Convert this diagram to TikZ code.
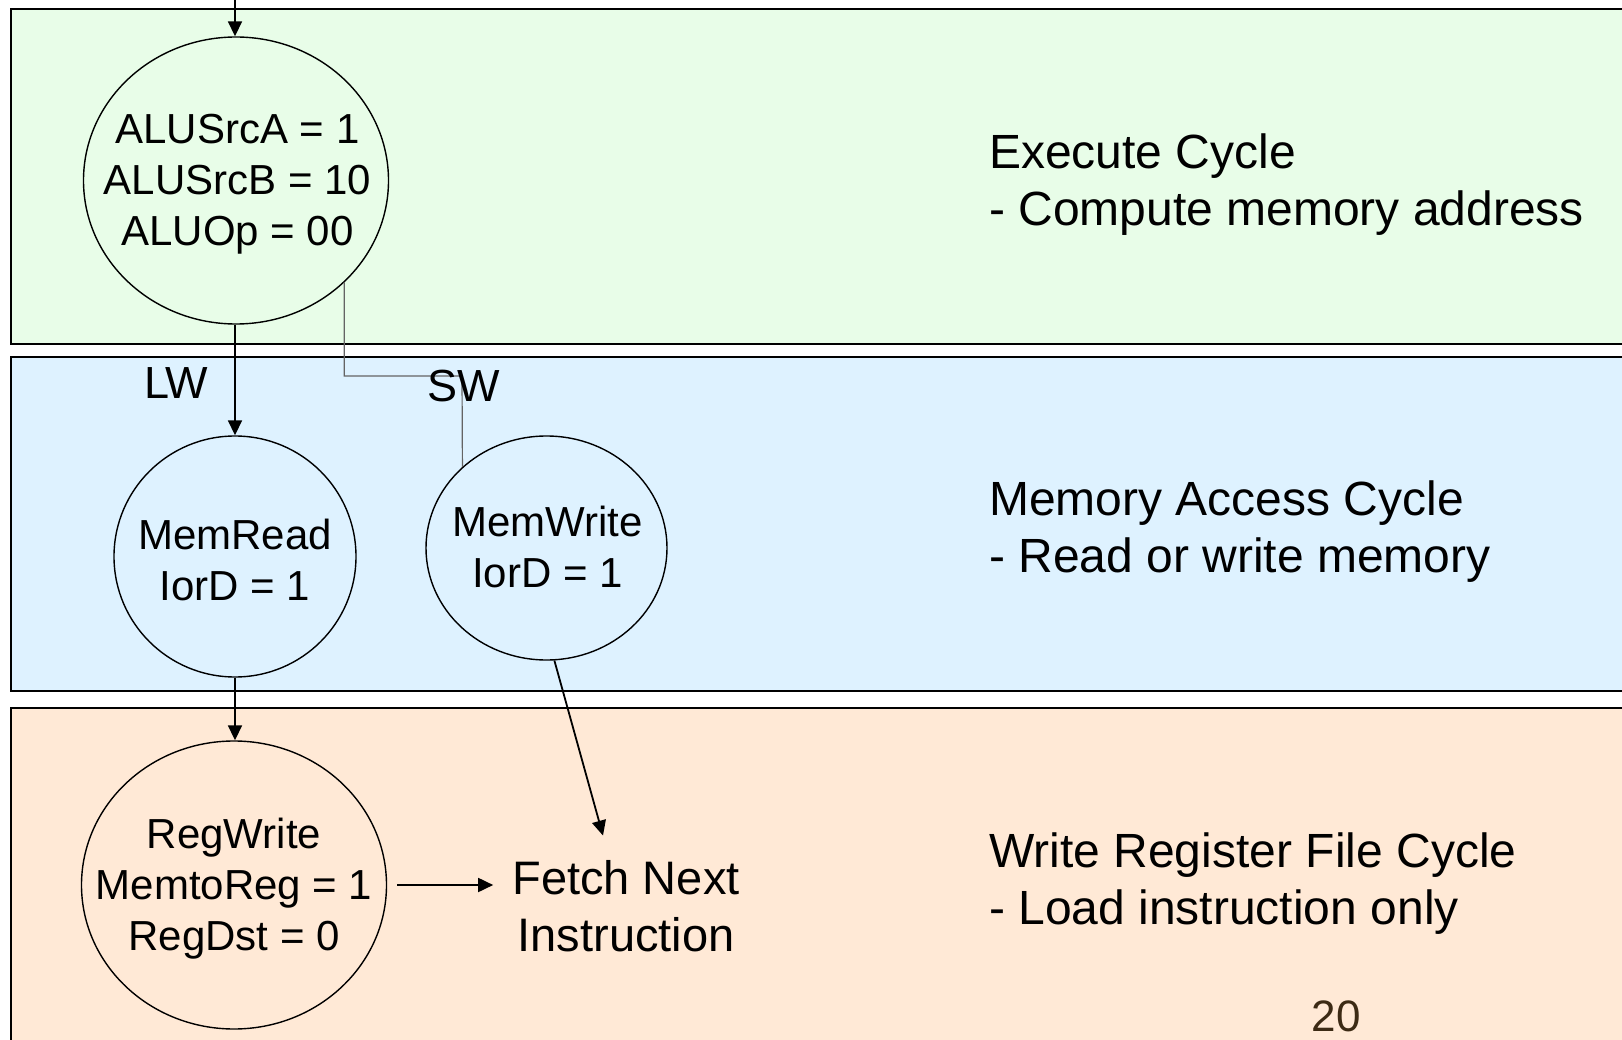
\documentclass[tikz,border=0pt]{standalone}
\usepackage{fontspec}
\setmainfont{Liberation Sans}
\usetikzlibrary{shapes.geometric,arrows.meta,calc}
\definecolor{execfill}{RGB}{232,253,232}
\definecolor{memfill}{RGB}{222,242,255}
\definecolor{wbfill}{RGB}{255,233,214}
\definecolor{pagenum}{RGB}{60,42,20}
\definecolor{swgray}{RGB}{100,100,100}
\begin{document}
\begin{tikzpicture}[x=1pt,y=-1pt,
  band/.style={draw=black,line width=2pt},
  state/.style={ellipse,draw=black,line width=1.4pt,inner sep=0pt},
  statetext/.style={align=center,inner sep=0pt,font=\fontsize{42}{51}\selectfont},
  arr/.style={line width=1.8pt,-{Triangle[length=15pt,width=14pt]}},
  swline/.style={line width=1.2pt,draw=swgray},
  cycletext/.style={align=left,inner sep=0pt,anchor=west,font=\fontsize{48}{57}\selectfont},
  branch/.style={font=\fontsize{45}{54}\selectfont,inner sep=0pt,anchor=base west}]
\useasboundingbox (0,0) rectangle (1622,1040);
\clip (0,0) rectangle (1622,1040);
\fill[white] (0,0) rectangle (1622,1040);
% cycle bands
\draw[band,fill=execfill] (11,9) rectangle (1660,344);
\draw[band,fill=memfill] (11,357) rectangle (1660,691);
\draw[band,fill=wbfill] (11,708) rectangle (1660,1080);
% states
\node[state,minimum width=305pt,minimum height=287pt,
  label={[statetext,yshift=-3.9pt,xshift=1.5pt]center:{ALUSrcA = 1\\ALUSrcB = 10\\ALUOp = 00}}] (alu) at (236,180.5) {};
\node[state,minimum width=242pt,minimum height=241pt,
  label={[statetext,yshift=-3.5pt]center:{MemRead\\IorD = 1}}] (mr) at (235,556.5) {};
\node[state,minimum width=241pt,minimum height=224pt,
  label={[statetext,yshift=1pt,xshift=1pt]center:{MemWrite\\IorD = 1}}] (mw) at (546.5,548) {};
\node[state,minimum width=305pt,minimum height=288pt,
  label={[statetext,yshift=-3.4pt]center:{RegWrite\\MemtoReg = 1\\RegDst = 0}}] (rw) at (234,885) {};
\node[font=\fontsize{47}{57}\selectfont,align=center,inner sep=0pt] (fetch) at (626,906.5) {Fetch Next\\Instruction};
% cycle descriptions
\node[cycletext] (exec) at (989,185) {Execute Cycle\\- Compute memory address};
\node[cycletext] (mem) at (989,532) {Memory Access Cycle\\- Read or write memory};
\node[cycletext] (wb) at (989,884) {Write Register File Cycle\\- Load instruction only};
\node[font=\fontsize{44}{53}\selectfont,text=pagenum,anchor=base,inner sep=0pt] (pg) at (1336,1031) {20};
% connectors
\coordinate (entry) at (235,0);
\coordinate (swbend) at (462,376);
\draw[arr] (entry) -- (entry |- alu.north);
\draw[arr] (mr.north |- alu.south) -- (mr.north);
\draw[arr] (mr.south) -- (mr.south |- rw.north);
\draw[swline] (alu.south east) |- (swbend) -- (mw.136.6);
\draw[arr] (mw.-86) -- ($(fetch.north)+(-23,-25)$);
\draw[arr,shorten <=10pt,shorten >=19pt] (rw.east) -- (rw.east -| fetch.west);
% branch labels
\node[branch] (lw) at (144,399) {LW};
\node[branch] (sw) at (427,402) {SW};
\end{tikzpicture}
\end{document}
